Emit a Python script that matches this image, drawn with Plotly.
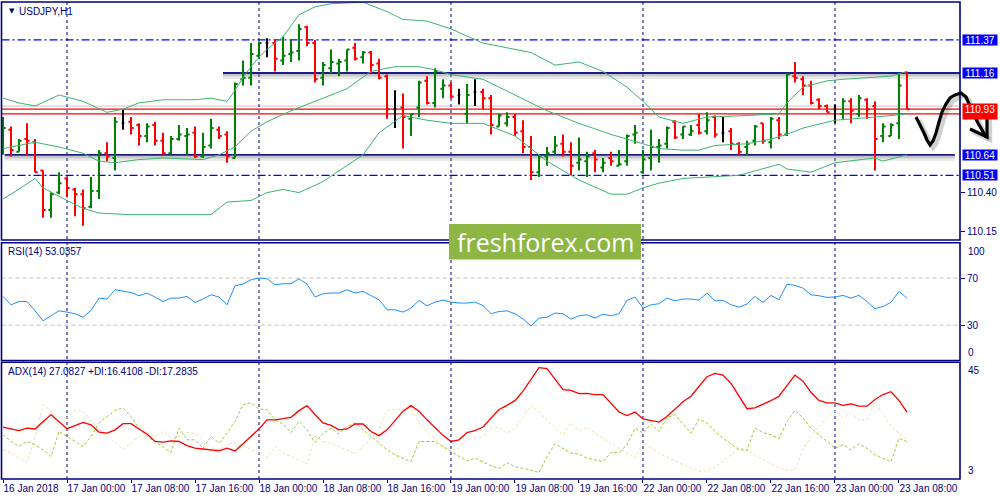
import plotly.graph_objects as go

# ---------------- data ----------------
opens = [110.66, 110.80, 110.66, 110.74, 110.72, 110.54, 110.29, 110.40, 110.49, 110.42,
         110.39, 110.31, 110.41, 110.65, 110.62, 110.84, 110.85, 110.83, 110.76, 110.83,
         110.73, 110.65, 110.74, 110.76, 110.78, 110.63, 110.70, 110.80, 110.77, 110.62,
         111.12, 111.13, 111.27, 111.35, 111.35, 111.24, 111.28, 111.30, 111.45, 111.35,
         111.13, 111.19, 111.22, 111.24, 111.32, 111.26, 111.29, 111.22, 111.14, 110.93,
         110.94, 110.87, 110.94, 111.11, 110.97, 111.06, 111.08, 111.02, 110.90, 111.04,
         111.04, 111.00, 110.82, 110.84, 110.88, 110.79, 110.69, 110.53, 110.63, 110.66,
         110.71, 110.66, 110.59, 110.60, 110.65, 110.56, 110.62, 110.57, 110.60, 110.77,
         110.53, 110.62, 110.69, 110.71, 110.85, 110.77, 110.77, 110.83, 110.79, 110.88,
         110.78, 110.79, 110.71, 110.69, 110.73, 110.84, 110.72, 110.86, 110.77, 111.14,
         111.12, 111.08, 110.99, 110.95, 110.93, 110.90, 110.98, 110.90, 110.99, 110.95,
         110.76, 110.76, 110.84, 111.16]
highs = [110.88, 110.82, 110.74, 110.84, 110.74, 110.54, 110.40, 110.53, 110.50, 110.43,
         110.42, 110.50, 110.67, 110.72, 110.88, 110.93, 110.88, 110.84, 110.84, 110.85,
         110.78, 110.76, 110.83, 110.81, 110.82, 110.78, 110.87, 110.82, 110.79, 111.10,
         111.24, 111.35, 111.36, 111.38, 111.37, 111.39, 111.37, 111.47, 111.46, 111.37,
         111.23, 111.31, 111.25, 111.31, 111.35, 111.30, 111.30, 111.25, 111.15, 111.05,
         111.03, 110.90, 111.11, 111.14, 111.19, 111.12, 111.10, 111.06, 111.09, 111.12,
         111.06, 111.02, 110.90, 110.91, 110.90, 110.86, 110.76, 110.64, 110.69, 110.76,
         110.77, 110.72, 110.75, 110.66, 110.67, 110.62, 110.66, 110.67, 110.77, 110.83,
         110.67, 110.80, 110.74, 110.82, 110.86, 110.82, 110.83, 110.90, 110.91, 110.89,
         110.88, 110.81, 110.72, 110.73, 110.83, 110.84, 110.88, 110.88, 111.16, 111.23,
         111.14, 111.11, 111.00, 110.96, 110.96, 111.00, 111.00, 111.02, 111.00, 110.98,
         110.84, 110.84, 111.16, 111.17]
lows = [110.64, 110.63, 110.66, 110.64, 110.53, 110.24, 110.24, 110.39, 110.37, 110.25,
        110.19, 110.30, 110.36, 110.60, 110.54, 110.80, 110.77, 110.70, 110.72, 110.70,
        110.64, 110.64, 110.73, 110.64, 110.62, 110.62, 110.68, 110.74, 110.59, 110.62,
        111.08, 111.08, 111.25, 111.26, 111.17, 111.21, 111.23, 111.24, 111.33, 111.10,
        111.08, 111.16, 111.14, 111.17, 111.24, 111.22, 111.16, 111.12, 110.87, 110.81,
        110.68, 110.76, 110.88, 110.96, 110.94, 111.00, 111.00, 110.96, 110.84, 110.95,
        110.93, 110.77, 110.82, 110.82, 110.76, 110.65, 110.48, 110.50, 110.57, 110.64,
        110.63, 110.51, 110.54, 110.50, 110.53, 110.53, 110.57, 110.57, 110.57, 110.71,
        110.52, 110.54, 110.59, 110.68, 110.74, 110.74, 110.76, 110.77, 110.77, 110.75,
        110.72, 110.67, 110.64, 110.64, 110.70, 110.71, 110.68, 110.74, 110.76, 111.10,
        111.02, 110.96, 110.93, 110.91, 110.84, 110.87, 110.84, 110.88, 110.87, 110.54,
        110.72, 110.76, 110.74, 110.93]
closes = [110.81, 110.67, 110.73, 110.73, 110.53, 110.29, 110.39, 110.46, 110.43, 110.39,
          110.30, 110.41, 110.65, 110.63, 110.85, 110.84, 110.81, 110.76, 110.82, 110.73,
          110.65, 110.74, 110.77, 110.77, 110.63, 110.69, 110.81, 110.76, 110.63, 111.09,
          111.13, 111.28, 111.35, 111.35, 111.25, 111.27, 111.29, 111.44, 111.35, 111.12,
          111.21, 111.23, 111.23, 111.31, 111.25, 111.29, 111.21, 111.13, 110.93, 110.93,
          110.88, 110.90, 111.10, 110.97, 111.17, 111.08, 111.01, 111.02, 111.02, 111.04,
          111.00, 110.83, 110.89, 110.88, 110.78, 110.69, 110.53, 110.63, 110.65, 110.70,
          110.66, 110.57, 110.61, 110.63, 110.61, 110.59, 110.60, 110.58, 110.76, 110.78,
          110.61, 110.69, 110.70, 110.81, 110.75, 110.82, 110.79, 110.78, 110.86, 110.77,
          110.78, 110.71, 110.66, 110.71, 110.82, 110.73, 110.87, 110.77, 111.15, 111.13,
          111.08, 110.97, 110.95, 110.91, 110.93, 110.98, 110.92, 111.00, 110.93, 110.74,
          110.82, 110.83, 111.08, 110.93]

# Bollinger bands: vertices (bar index, price)
bb_upper_x = [0, 2, 4, 7, 10, 13, 15, 17, 20, 24, 26, 28, 29, 30, 31, 32, 33, 35, 37, 39, 41,
              45, 48, 50, 53, 56, 60, 64, 66, 69, 72, 75, 78, 80, 82, 85, 88, 93, 97, 98, 100,
              103, 105, 111, 113]
bb_upper_y = [111.00, 110.97, 110.95, 111.02, 110.98, 110.91, 110.93, 110.97, 110.99, 110.99,
              111.00, 110.98, 111.05, 111.13, 111.20, 111.26, 111.31, 111.39, 111.53, 111.58,
              111.60, 111.61, 111.55, 111.50, 111.49, 111.44, 111.35, 111.31, 111.29, 111.21,
              111.23, 111.17, 111.07, 110.98, 110.88, 110.84, 110.88, 110.89, 110.90, 110.97,
              111.07, 111.11, 111.12, 111.14, 111.17]
bb_mid_x = [0, 4, 7, 10, 12, 14, 17, 20, 25, 27, 29, 31, 33, 36, 40, 43, 46, 49, 52, 54, 56,
            60, 64, 68, 72, 76, 80, 82, 85, 87, 89, 93, 96, 98, 100, 104, 109, 111, 113]
bb_mid_y = [110.68, 110.72, 110.69, 110.65, 110.60, 110.59, 110.61, 110.62, 110.61, 110.64,
            110.69, 110.79, 110.85, 110.92, 111.00, 111.06, 111.17, 111.20, 111.20, 111.18,
            111.15, 111.12, 111.02, 110.92, 110.84, 110.77, 110.71, 110.68, 110.67, 110.67,
            110.70, 110.71, 110.74, 110.77, 110.81, 110.86, 110.88, 110.89, 110.90]
bb_low_x = [0, 1, 4, 5, 8, 10, 12, 16, 26, 28, 31, 33, 35, 37, 40, 45, 47, 50, 53, 56, 60,
            64, 68, 72, 76, 78, 80, 82, 85, 92, 97, 98, 101, 104, 109, 110, 113]
bb_low_y = [110.36, 110.39, 110.49, 110.43, 110.35, 110.30, 110.27, 110.26, 110.26, 110.34,
            110.35, 110.40, 110.42, 110.40, 110.47, 110.64, 110.78, 110.89, 110.86, 110.84,
            110.84, 110.76, 110.60, 110.48, 110.39, 110.39, 110.43, 110.46, 110.49, 110.51,
            110.58, 110.55, 110.53, 110.59, 110.62, 110.60, 110.64]

rsi = [54.4, 47.3, 50.1, 50.1, 42.2, 33.7, 38.0, 42.2, 41.1, 39.7, 36.8, 42.5, 53.0, 52.2,
       60.1, 59.2, 57.8, 55.0, 57.3, 53.9, 50.1, 53.0, 53.0, 54.4, 49.3, 52.2, 55.8, 53.9,
       47.3, 63.5, 64.9, 68.6, 70.0, 69.4, 64.3, 65.2, 65.2, 69.4, 64.9, 53.9, 56.7, 57.3,
       57.3, 60.1, 57.3, 58.7, 55.3, 51.6, 43.1, 43.1, 41.1, 44.5, 51.0, 46.5, 49.6, 51.3,
       49.6, 48.8, 48.8, 49.6, 46.7, 39.7, 41.6, 42.2, 39.7, 35.4, 29.4, 36.0, 36.8, 40.3,
       39.7, 35.1, 38.0, 38.8, 36.0, 39.4, 38.0, 39.7, 51.0, 53.9, 44.5, 47.3, 48.2, 53.0,
       50.7, 52.2, 52.2, 51.3, 57.3, 50.7, 51.0, 47.3, 45.4, 47.9, 54.4, 49.3, 55.3, 51.6,
       64.9, 63.7, 61.5, 55.8, 55.0, 53.6, 53.9, 55.3, 53.0, 55.3, 50.1, 43.9, 45.9, 49.3,
       58.7, 53.0]

adx = [21.7, 21.0, 20.4, 21.3, 21.0, 23.6, 26.2, 23.6, 21.1, 22.2, 23.4, 22.5, 19.9, 19.5,
       20.7, 22.9, 22.9, 21.0, 19.2, 16.5, 16.3, 16.7, 16.5, 15.0, 14.1, 13.8, 13.5, 13.1,
       14.1, 13.1, 15.7, 18.3, 21.0, 24.3, 24.3, 24.7, 25.2, 27.6, 29.4, 26.2, 23.2, 22.3,
       20.7, 21.0, 22.8, 22.8, 20.1, 18.6, 20.7, 24.0, 27.4, 29.4, 27.4, 24.3, 21.6, 18.7,
       16.5, 17.1, 19.7, 20.4, 21.7, 25.0, 28.0, 29.5, 31.2, 34.6, 38.8, 43.1, 42.7, 38.8,
       35.2, 34.9, 33.7, 33.8, 33.4, 33.4, 30.4, 27.1, 25.8, 27.1, 24.6, 24.0, 23.5, 25.5,
       28.0, 30.8, 32.8, 36.1, 39.8, 41.0, 40.4, 37.4, 32.8, 28.3, 28.6, 29.8, 31.2, 32.8,
       36.4, 40.4, 38.2, 34.2, 31.3, 30.4, 30.4, 29.5, 30.0, 29.2, 29.2, 31.6, 33.4, 34.4,
       31.3, 27.1]
plus_di = [18.9, 16.5, 14.7, 16.5, 15.3, 13.5, 11.1, 20.1, 18.3, 16.5, 14.7, 18.3, 23.2, 25.5,
           27.7, 28.6, 25.5, 21.3, 18.3, 16.5, 14.5, 12.6, 21.3, 17.1, 17.1, 14.1, 18.3, 15.9,
           19.5, 23.7, 29.8, 30.4, 28.2, 28.0, 24.3, 22.8, 19.7, 23.7, 20.7, 16.1, 19.3, 21.3,
           19.2, 21.9, 23.2, 20.7, 18.3, 15.9, 13.5, 11.7, 10.5, 9.2, 16.5, 16.5, 16.5, 14.7,
           12.9, 11.3, 9.5, 10.5, 9.2, 7.8, 6.8, 8.9, 7.4, 6.8, 6.2, 5.3, 11.1, 15.7,
           14.1, 12.3, 12.0, 10.5, 9.9, 9.2, 12.5, 12.5, 15.3, 21.3, 19.5, 22.9, 20.1, 25.0,
           26.2, 22.9, 19.5, 24.6, 23.2, 20.1, 17.7, 15.7, 13.5, 13.3, 21.3, 19.7, 18.9, 17.5,
           23.7, 27.7, 25.0, 21.3, 18.9, 16.5, 14.1, 15.3, 13.5, 15.7, 14.1, 11.7, 10.5, 9.2,
           17.7, 16.4]
minus_di = [13.5, 12.3, 10.5, 9.2, 17.7, 29.8, 27.4, 21.9, 25.0, 27.7, 27.4, 24.3, 20.7, 18.3,
            15.9, 13.7, 15.9, 18.3, 19.7, 18.3, 20.1, 17.7, 18.3, 19.8, 19.3, 17.1, 14.1, 13.5,
            15.3, 16.1, 14.9, 13.7, 12.3, 10.7, 14.7, 12.3, 11.1, 9.9, 8.4, 18.3, 16.5, 15.9,
            14.7, 13.3, 12.0, 14.7, 17.7, 20.7, 27.7, 28.0, 28.0, 28.6, 22.8, 20.1, 17.4, 14.7,
            13.5, 14.1, 17.1, 17.7, 18.3, 21.3, 21.5, 19.5, 21.3, 25.5, 29.4, 27.0, 24.3, 21.3,
            18.9, 23.2, 20.4, 21.7, 19.5, 17.7, 15.7, 14.1, 12.3, 10.5, 15.9, 14.1, 12.3, 10.9,
            9.5, 8.1, 6.8, 5.8, 5.9, 7.4, 9.2, 11.7, 14.1, 13.7, 11.3, 10.1, 8.7, 7.1,
            6.2, 6.2, 13.5, 18.3, 21.9, 25.0, 27.4, 25.0, 26.8, 24.3, 24.3, 30.5, 26.2, 21.9,
            19.5, 17.3]

tick_pos = [0, 8, 16, 24, 32, 40, 48, 56, 64, 72, 80, 88, 96, 104, 112]
tick_text = ["16 Jan 2018", "17 Jan 00:00", "17 Jan 08:00", "17 Jan 16:00", "18 Jan 00:00",
             "18 Jan 08:00", "18 Jan 16:00", "19 Jan 00:00", "19 Jan 08:00", "19 Jan 16:00",
             "22 Jan 00:00", "22 Jan 08:00", "22 Jan 16:00", "23 Jan 00:00", "23 Jan 08:00"]
day_separators = [8, 32, 56, 80, 104]

dashdot_levels = [111.37, 110.51]
solid_levels = [111.16, 110.64]
solid_start = [27.5, 0.2]
solid_end = [119.6, 119.0]
red_levels = [110.93, 110.90]
ask_level = 110.95
plain_price_ticks = [110.40, 110.15]

# hand-drawn arrow (pixel positions of the freehand sketch)
arrow_px = [(916, 117), (920, 125), (924, 133), (927, 140), (930, 145), (933, 141), (936, 133),
            (939, 122), (942, 112), (946, 104), (950, 98), (955, 95), (961, 93), (966, 97),
            (970, 106), (974, 115), (978, 123), (982, 130), (986, 137)]
arrow_head_px = [(970, 129), (987, 137), (987, 113)]

# ---------------- style ----------------
W, H = 1000, 500
FONT = "Liberation Sans"
NAVY = "#000080"
GREEN = "#008000"
RED = "#ff0000"
BB = "#3cb371"
X0, X1 = 0.0015, 0.96
MAIN_DOM = [0.52, 0.996]
RSI_DOM = [0.279, 0.5145]
ADX_DOM = [0.042, 0.2754]
PRICE_RANGE = [110.099, 111.611]
XRANGE = [-0.19, 119.63]

n = len(opens)
idx = list(range(n))
normal = [i for i in idx if opens[i] != closes[i]]
doji = [i for i in idx if opens[i] == closes[i]]

fig = go.Figure()

# Bollinger bands
for bx, by in [(bb_upper_x, bb_upper_y), (bb_mid_x, bb_mid_y), (bb_low_x, bb_low_y)]:
    fig.add_trace(go.Scatter(x=bx, y=by, mode="lines", line=dict(color=BB, width=1),
                             xaxis="x", yaxis="y", hoverinfo="skip", showlegend=False))

fig.add_trace(go.Ohlc(x=normal,
                      open=[opens[i] for i in normal], high=[highs[i] for i in normal],
                      low=[lows[i] for i in normal], close=[closes[i] for i in normal],
                      increasing=dict(line=dict(color=GREEN, width=2)),
                      decreasing=dict(line=dict(color=RED, width=2)),
                      tickwidth=0.33, xaxis="x", yaxis="y", showlegend=False, hoverinfo="skip"))
fig.add_trace(go.Ohlc(x=doji,
                      open=[opens[i] for i in doji], high=[highs[i] for i in doji],
                      low=[lows[i] for i in doji], close=[closes[i] for i in doji],
                      increasing=dict(line=dict(color="#000000", width=2)),
                      decreasing=dict(line=dict(color="#000000", width=2)),
                      tickwidth=0.16, xaxis="x", yaxis="y", showlegend=False, hoverinfo="skip"))

# RSI
fig.add_trace(go.Scatter(x=idx, y=rsi, mode="lines", line=dict(color="#1e90ff", width=1),
                         xaxis="x2", yaxis="y2", hoverinfo="skip", showlegend=False))
# ADX
fig.add_trace(go.Scatter(x=idx, y=minus_di, mode="lines",
                         line=dict(color="#f5deb3", width=1, dash="3px,2px"),
                         xaxis="x3", yaxis="y3", hoverinfo="skip", showlegend=False))
fig.add_trace(go.Scatter(x=idx, y=plus_di, mode="lines",
                         line=dict(color="#9acd32", width=1, dash="3px,2px"),
                         xaxis="x3", yaxis="y3", hoverinfo="skip", showlegend=False))
fig.add_trace(go.Scatter(x=idx, y=adx, mode="lines", line=dict(color=RED, width=1.3),
                         xaxis="x3", yaxis="y3", hoverinfo="skip", showlegend=False))

shapes = []
px_per_price = (MAIN_DOM[1] - MAIN_DOM[0]) * H / (PRICE_RANGE[1] - PRICE_RANGE[0])

# horizontal levels
for lv in dashdot_levels:
    shapes.append(dict(type="line", xref="paper", yref="y", x0=X0, x1=X1, y0=lv, y1=lv,
                       line=dict(color="#0000ff", width=1.2, dash="8px,3px,2px,3px"), layer="below"))
for lv, s, e in zip(solid_levels, solid_start, solid_end):
    for off, wdt, col in [(3.0, 6, "rgba(120,120,120,0.18)"), (1.8, 3, "rgba(120,120,120,0.30)")]:
        d = off / px_per_price
        shapes.append(dict(type="line", xref="x", yref="y", x0=s, x1=e, y0=lv - d, y1=lv - d,
                           line=dict(color=col, width=wdt), layer="below"))
    shapes.append(dict(type="line", xref="x", yref="y", x0=s, x1=e, y0=lv, y1=lv,
                       line=dict(color="#1c1c8c", width=1.8), layer="below"))
shapes.append(dict(type="line", xref="paper", yref="y", x0=X0, x1=X1, y0=ask_level, y1=ask_level,
                   line=dict(color="#c8c8c8", width=1), layer="below"))
for lv in red_levels:
    shapes.append(dict(type="line", xref="paper", yref="y", x0=X0, x1=X1, y0=lv, y1=lv,
                       line=dict(color=RED, width=1.2), layer="below"))
# RSI levels
for lv in [70, 30]:
    shapes.append(dict(type="line", xref="paper", yref="y2", x0=X0, x1=X1, y0=lv, y1=lv,
                       line=dict(color="#c0c0c0", width=1, dash="4px,3px"), layer="below"))
# day separators
for sx in day_separators:
    shapes.append(dict(type="line", xref="x", yref="paper", x0=sx, x1=sx,
                       y0=ADX_DOM[0], y1=MAIN_DOM[1],
                       line=dict(color=NAVY, width=1, dash="3px,3px"), layer="below"))
# panel frames
for dom in [MAIN_DOM, RSI_DOM, ADX_DOM]:
    shapes.append(dict(type="rect", xref="paper", yref="paper", x0=X0, x1=X1, y0=dom[0], y1=dom[1],
                       line=dict(color=NAVY, width=1.6), fillcolor="rgba(0,0,0,0)", layer="above"))

# watermark
shapes.append(dict(type="rect", xref="paper", yref="paper", x0=449 / W, x1=641 / W,
                   y0=1 - 259.5 / H, y1=1 - 224 / H, fillcolor="#8db645", line=dict(width=0),
                   layer="above"))


def to_path(pts, dx=0, dy=0):
    return "M " + " L ".join(f"{(x + dx) / W:.5f},{1 - (y + dy) / H:.5f}" for x, y in pts)


for dx, dy, col, wdt in [(3, 3, "rgba(0,0,0,0.18)", 4.5), (0, 0, "#000000", 3.2)]:
    shapes.append(dict(type="path", xref="paper", yref="paper", path=to_path(arrow_px, dx, dy),
                       line=dict(color=col, width=wdt), layer="above"))
    shapes.append(dict(type="path", xref="paper", yref="paper", path=to_path(arrow_head_px, dx, dy),
                       line=dict(color=col, width=wdt), layer="above"))

annotations = []
# boxed price labels
for lv, col in [(dashdot_levels[0], "#0000ff"), (solid_levels[0], "#0000ff"),
                (solid_levels[1], "#0000ff"), (dashdot_levels[1], "#0000ff")]:
    annotations.append(dict(xref="paper", yref="y", x=0.962, y=lv, xanchor="left", yanchor="middle",
                            text=f"{lv:.2f}", showarrow=False, bgcolor=col, width=34, height=10,
                            borderpad=0, align="center",
                            font=dict(family=FONT, size=10, color="#ffffff")))
# the two close red price lines share one red box (upper value shown)
annotations.append(dict(xref="paper", yref="y", x=0.962, y=sum(red_levels) / 2, xanchor="left",
                        yanchor="middle", text=f"{max(red_levels):.2f}", showarrow=False,
                        bgcolor=RED, width=34, height=15, borderpad=0, align="center", valign="top",
                        font=dict(family=FONT, size=10, color="#ffffff")))
# inner-edge labels for indicator windows
for ax, top, bot in [("y2", 100, 0), ("y3", 45, 3)]:
    annotations.append(dict(xref="paper", yref=ax, x=0.966, y=top, xanchor="left", yanchor="top",
                            yshift=-1, text=str(top), showarrow=False,
                            font=dict(family=FONT, size=10, color=NAVY)))
    annotations.append(dict(xref="paper", yref=ax, x=0.966, y=bot, xanchor="left", yanchor="bottom",
                            yshift=1, text=str(bot), showarrow=False,
                            font=dict(family=FONT, size=10, color=NAVY)))
# titles
annotations.append(dict(xref="paper", yref="paper", x=7 / W, y=1 - 11 / H, xanchor="left",
                        yanchor="middle", text="▼", showarrow=False,
                        font=dict(family="DejaVu Sans", size=7, color=NAVY)))
annotations.append(dict(xref="paper", yref="paper", x=17 / W, y=1 - 11 / H, xanchor="left",
                        yanchor="middle", text="USDJPY,H1", showarrow=False,
                        font=dict(family=FONT, size=10, color=NAVY)))
annotations.append(dict(xref="paper", yref="paper", x=6 / W, y=1 - 251.5 / H, xanchor="left",
                        yanchor="middle", text="RSI(14) 53.0357", showarrow=False,
                        font=dict(family=FONT, size=10, color=NAVY)))
annotations.append(dict(xref="paper", yref="paper", x=6 / W, y=1 - 371.5 / H, xanchor="left",
                        yanchor="middle", text="ADX(14) 27.0827 +DI:16.4108 -DI:17.2835",
                        showarrow=False, font=dict(family=FONT, size=10, color=NAVY)))
annotations.append(dict(xref="paper", yref="paper", x=545 / W, y=1 - 242 / H, xanchor="center",
                        yanchor="middle", text="freshforex.com", showarrow=False,
                        font=dict(family="Open Sans", size=25, color="#ffffff")))

common_x = dict(range=XRANGE, domain=[X0, X1], showgrid=False, zeroline=False,
                showline=False, fixedrange=True)
axis_font = dict(family=FONT, size=10, color=NAVY)
common_y = dict(side="right", showgrid=False, zeroline=False, showline=False, ticks="outside",
                ticklen=4, tickcolor=NAVY, tickfont=axis_font, automargin=False, fixedrange=True)

fig.update_layout(
    width=W, height=H, margin=dict(l=0, r=0, t=0, b=0),
    paper_bgcolor="#ffffff", plot_bgcolor="#ffffff", showlegend=False,
    xaxis=dict(**common_x, anchor="y", showticklabels=False, rangeslider=dict(visible=False)),
    xaxis2=dict(**common_x, anchor="y2", matches="x", showticklabels=False),
    xaxis3=dict(**common_x, anchor="y3", matches="x", tickmode="array", tickvals=tick_pos,
                ticktext=tick_text, ticks="outside", ticklen=3, tickcolor=NAVY, tickangle=0,
                tickfont=axis_font, ticklabelposition="outside right", automargin=False),
    yaxis=dict(**common_y, domain=MAIN_DOM, range=PRICE_RANGE, anchor="x",
               tickmode="array", tickvals=plain_price_ticks, ticktext=[f"{v:.2f}" for v in plain_price_ticks]),
    yaxis2=dict(**common_y, domain=RSI_DOM, range=[0, 100], anchor="x2",
                tickmode="array", tickvals=[70, 30]),
    yaxis3=dict(**common_y, domain=ADX_DOM, range=[3, 45], anchor="x3",
                tickmode="array", tickvals=[]),
    shapes=shapes, annotations=annotations,
)

fig.write_html("out.html", config={"displayModeBar": False},
               post_script="document.body.style.margin='0px';document.body.style.overflow='hidden';")
